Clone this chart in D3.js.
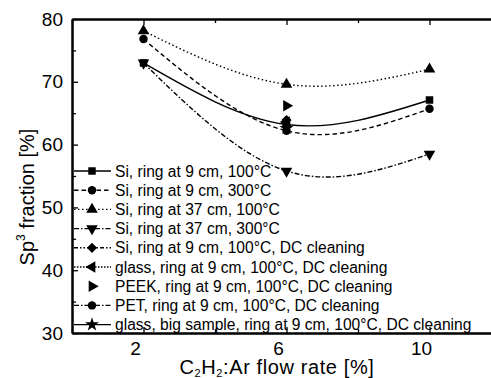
<!DOCTYPE html>
<html>
<head>
<meta charset="utf-8">
<script src="https://cdn.jsdelivr.net/npm/d3@7"></script>
<style>
  html, body { margin: 0; padding: 0; background: #fff; }
  svg { display: block; font-family: "Liberation Sans", Arial, sans-serif; }
</style>
</head>
<body>
<svg id="chart" width="491" height="378"></svg>
<script>
// C2H2:Ar flow rate (%) at which samples were deposited
const flowRates = [2, 6, 10];

// sp3 fraction (%) for each sample series
const siRing9at100 = [73.0, 63.2, 67.1];
const siRing9at300 = [76.8, 62.2, 65.7];
const siRing37at100 = [78.1, 69.6, 72.0];
const siRing37at300 = [73.0, 55.8, 58.5];
// single-point series, all at 6 %
const singleRate = [6];
const siRing9at100DC = [63.9];
const glassRing9DC = [63.6];
const peekRing9DC = [66.2];
const petRing9DC = [63.0];
const glassBigRing9DC = [62.6];

const seriesLabels = [
  "Si, ring at 9 cm, 100°C",
  "Si, ring at 9 cm, 300°C",
  "Si, ring at 37 cm, 100°C",
  "Si, ring at 37 cm, 300°C",
  "Si, ring at 9 cm, 100°C, DC cleaning",
  "glass, ring at 9 cm, 100°C, DC cleaning",
  "PEEK, ring at 9 cm, 100°C, DC cleaning",
  "PET, ring at 9 cm, 100°C, DC cleaning",
  "glass, big sample, ring at 9 cm, 100°C, DC cleaning"
];

const xMajorTicks = [2, 6, 10];
const xMinorTicks = [0, 4, 8, 12];
const yMajorTicks = [30, 40, 50, 60, 70, 80];
const yMinorTicks = [35, 45, 55, 65, 75];

// per-series drawing style: marker, rotation, dash pattern (null = no line)
const styles = [
  { sym: d3.symbolSquare,   rot: 0,   size: 56, dash: "" },
  { sym: d3.symbolCircle,   rot: 0,   size: 56, dash: "4.5,3" },
  { sym: d3.symbolTriangle, rot: 0,   size: 58, dash: "1.5,2.5" },
  { sym: d3.symbolTriangle, rot: 180, size: 58, dash: "5,2,1.5,2" },
  { sym: d3.symbolSquare,   rot: 45,  size: 52, dash: "4,2,1.5,2,1.5,2" },
  { sym: d3.symbolTriangle, rot: -90, size: 58, dash: "1.5,1.5" },
  { sym: d3.symbolTriangle, rot: 90,  size: 58, dash: null },
  { sym: d3.symbolCircle,   rot: 0,   size: 56, dash: "5,2,1.5,2" },
  { sym: d3.symbolStar,     rot: 0,   size: 60, dash: "" }
];

const series = [
  { x: flowRates, y: siRing9at100 },
  { x: flowRates, y: siRing9at300 },
  { x: flowRates, y: siRing37at100 },
  { x: flowRates, y: siRing37at300 },
  { x: singleRate, y: siRing9at100DC },
  { x: singleRate, y: glassRing9DC },
  { x: singleRate, y: peekRing9DC },
  { x: singleRate, y: petRing9DC },
  { x: singleRate, y: glassBigRing9DC }
];

const svg = d3.select("#chart");
const plot = { left: 72, top: 19, bottom: 333, right: 501 };

const x = d3.scaleLinear().domain([0, 12]).range([plot.left, plot.right]);
const y = d3.scaleLinear().domain([30, 80]).range([plot.bottom, plot.top]);

// frame and inward ticks
function styleAxis(g, width) {
  g.selectAll("path.domain").attr("stroke", "#000").attr("stroke-width", width);
  g.selectAll("line").attr("stroke", "#000").attr("stroke-width", 1.3);
}

const bottomMajor = svg.append("g").attr("transform", `translate(0,${plot.bottom})`)
  .call(d3.axisBottom(x).tickValues(xMajorTicks).tickSize(-6).tickSizeOuter(0).tickPadding(9).tickFormat(d3.format("d")));
styleAxis(bottomMajor, 2);
bottomMajor.selectAll("text").attr("x", -8.5).attr("font-size", 19).attr("fill", "#000")
  .attr("font-family", "Liberation Sans, Arial, sans-serif");
const bottomMinor = svg.append("g").attr("transform", `translate(0,${plot.bottom})`)
  .call(d3.axisBottom(x).tickValues(xMinorTicks).tickSize(-4).tickSizeOuter(0).tickFormat(""));
styleAxis(bottomMinor, 2);

const topMajor = svg.append("g").attr("transform", `translate(0,${plot.top})`)
  .call(d3.axisTop(x).tickValues(xMajorTicks).tickSize(-6).tickSizeOuter(0).tickFormat(""));
styleAxis(topMajor, 2);
const topMinor = svg.append("g").attr("transform", `translate(0,${plot.top})`)
  .call(d3.axisTop(x).tickValues(xMinorTicks).tickSize(-4).tickSizeOuter(0).tickFormat(""));
styleAxis(topMinor, 2);

const leftMajor = svg.append("g").attr("transform", `translate(${plot.left},0)`)
  .call(d3.axisLeft(y).tickValues(yMajorTicks).tickSize(-6).tickSizeOuter(0).tickPadding(9).tickFormat(d3.format("d")));
styleAxis(leftMajor, 2);
leftMajor.selectAll("text").attr("font-size", 19).attr("fill", "#000")
  .attr("font-family", "Liberation Sans, Arial, sans-serif");
const leftMinor = svg.append("g").attr("transform", `translate(${plot.left},0)`)
  .call(d3.axisLeft(y).tickValues(yMinorTicks).tickSize(-4).tickSizeOuter(0).tickFormat(""));
styleAxis(leftMinor, 2);

// axis titles
const yTitle = svg.append("text")
  .attr("transform", "translate(34,197) rotate(-90)")
  .attr("text-anchor", "middle").attr("font-size", 20).attr("fill", "#000");
yTitle.append("tspan").text("Sp");
yTitle.append("tspan").attr("font-size", 12).attr("dy", -9).text("3");
yTitle.append("tspan").attr("dy", 9).text(" fraction [%]");

const xTitle = svg.append("text")
  .attr("x", 277).attr("y", 374)
  .attr("text-anchor", "middle").attr("font-size", 20)
  .attr("letter-spacing", 0.6).attr("fill", "#000");
xTitle.append("tspan").text("C");
xTitle.append("tspan").attr("font-size", 11).attr("dy", 3).text("2");
xTitle.append("tspan").attr("dy", -3).text("H");
xTitle.append("tspan").attr("font-size", 11).attr("dy", 3).text("2");
xTitle.append("tspan").attr("dy", -3).text(":Ar flow rate [%]");

// fitted curves through each multi-point series
const line = d3.line().x(d => x(d[0])).y(d => y(d[1])).curve(d3.curveNatural);
series.forEach((s, i) => {
  const st = styles[i];
  if (st.dash === null || s.x.length < 2) return;
  const pts = s.x.map((v, j) => [v, s.y[j]]);
  svg.append("path").datum(pts)
    .attr("d", line)
    .attr("fill", "none").attr("stroke", "#000").attr("stroke-width", 1.4)
    .attr("stroke-dasharray", st.dash || null);
});

// markers
series.forEach((s, i) => {
  const st = styles[i];
  const sym = d3.symbol().type(st.sym).size(st.size);
  s.x.forEach((v, j) => {
    svg.append("path").attr("d", sym())
      .attr("transform", `translate(${x(v)},${y(s.y[j])}) rotate(${st.rot})`)
      .attr("fill", "#000");
  });
});

// legend
const legend = svg.append("g");
seriesLabels.forEach((label, i) => {
  const st = styles[i];
  const ry = 171 + i * 19.2;
  if (st.dash !== null) {
    legend.append("line").attr("x1", 74).attr("x2", 111).attr("y1", ry).attr("y2", ry)
      .attr("stroke", "#000").attr("stroke-width", 1.4)
      .attr("stroke-dasharray", st.dash || null);
  }
  legend.append("path").attr("d", d3.symbol().type(st.sym).size(st.size)())
    .attr("transform", `translate(92,${ry}) rotate(${st.rot})`).attr("fill", "#000");
  legend.append("text").attr("x", 115).attr("y", ry).attr("dy", "0.36em")
    .attr("font-size", 15.6).attr("fill", "#000").text(label);
});
</script>
</body>
</html>
